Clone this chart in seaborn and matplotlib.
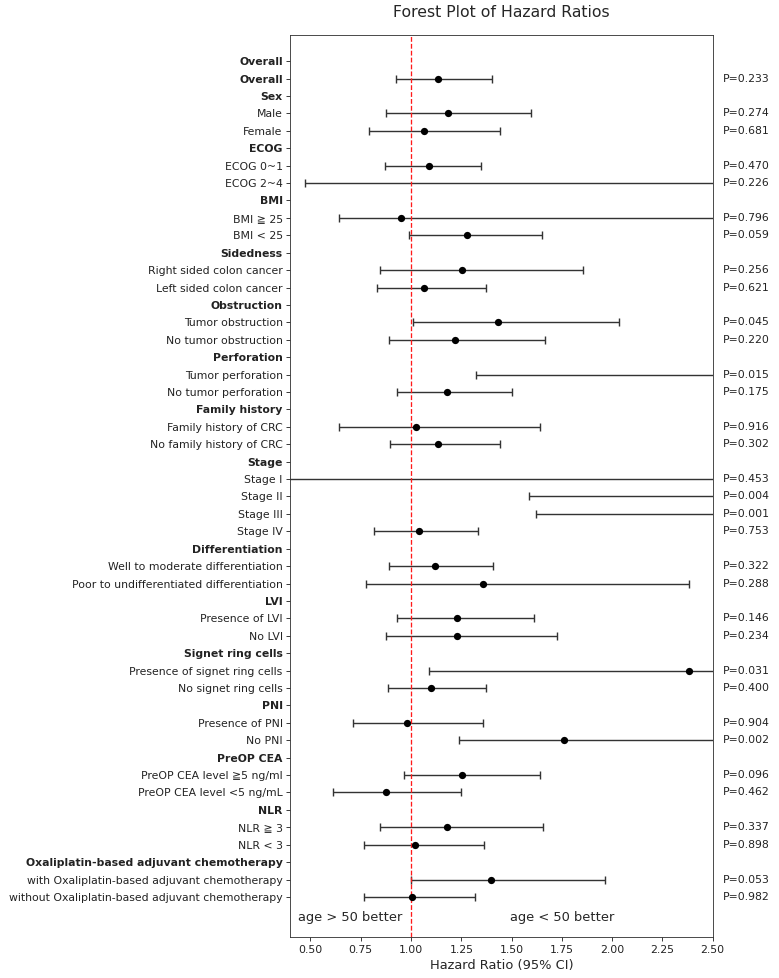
import numpy as np
import pandas as pd
import matplotlib.pyplot as plt
import seaborn as sns

# ── data ────────────────────────────────────────────────────────────────
labels = [
    "Overall", "Overall",
    "Sex", "Male", "Female",
    "ECOG", "ECOG 0~1", "ECOG 2~4",
    "BMI", "BMI ≧ 25", "BMI < 25",
    "Sidedness", "Right sided colon cancer", "Left sided colon cancer",
    "Obstruction", "Tumor obstruction", "No tumor obstruction",
    "Perforation", "Tumor perforation", "No tumor perforation",
    "Family history", "Family history of CRC", "No family history of CRC",
    "Stage", "Stage I", "Stage II", "Stage III", "Stage IV",
    "Differentiation", "Well to moderate differentiation",
    "Poor to undifferentiated differentiation",
    "LVI", "Presence of LVI", "No LVI",
    "Signet ring cells", "Presence of signet ring cells", "No signet ring cells",
    "PNI", "Presence of PNI", "No PNI",
    "PreOP CEA", "PreOP CEA level ≧5 ng/ml", "PreOP CEA level <5 ng/mL",
    "NLR", "NLR ≧ 3", "NLR < 3",
    "Oxaliplatin-based adjuvant chemotherapy",
    "with Oxaliplatin-based adjuvant chemotherapy",
    "without Oxaliplatin-based adjuvant chemotherapy",
]
is_header = [
    1, 1,
    1, 0, 0,
    1, 0, 0,
    1, 0, 0,
    1, 0, 0,
    1, 0, 0,
    1, 0, 0,
    1, 0, 0,
    1, 0, 0, 0, 0,
    1, 0, 0,
    1, 0, 0,
    1, 0, 0,
    1, 0, 0,
    1, 0, 0,
    1, 0, 0,
    1, 0, 0,
]
nan = np.nan
hr = [
    nan, 1.136,
    nan, 1.184, 1.065,
    nan, 1.087, 2.90,
    nan, 0.951, 1.279,
    nan, 1.254, 1.065,
    nan, 1.431, 1.219,
    nan, 4.50, 1.181,
    nan, 1.027, 1.133,
    nan, 3.00, 3.00, 3.10, 1.042,
    nan, 1.121, 1.357,
    nan, 1.227, 1.227,
    nan, 2.382, 1.100,
    nan, 0.979, 1.763,
    nan, 1.254, 0.876,
    nan, 1.181, 1.019,
    nan, 1.396, 1.004,
]
ci_low = [
    nan, 0.924,
    nan, 0.878, 0.792,
    nan, 0.873, 0.472,
    nan, 0.644, 0.992,
    nan, 0.848, 0.830,
    nan, 1.009, 0.889,
    nan, 1.324, 0.932,
    nan, 0.644, 0.896,
    nan, 0.15, 1.589, 1.620, 0.815,
    nan, 0.893, 0.775,
    nan, 0.932, 0.878,
    nan, 1.087, 0.886,
    nan, 0.714, 1.239,
    nan, 0.964, 0.614,
    nan, 0.845, 0.765,
    nan, 0.999, 0.768,
]
ci_high = [
    nan, 1.405,
    nan, 1.595, 1.441,
    nan, 1.347, 17.0,
    nan, 2.90, 1.650,
    nan, 1.854, 1.373,
    nan, 2.036, 1.665,
    nan, 15.0, 1.501,
    nan, 1.642, 1.441,
    nan, 60.0, 6.00, 6.00, 1.335,
    nan, 1.410, 2.382,
    nan, 1.612, 1.724,
    nan, 5.20, 1.373,
    nan, 1.358, 2.60,
    nan, 1.642, 1.251,
    nan, 1.657, 1.363,
    nan, 1.965, 1.319,
]
p_values = [
    "", "P=0.233",
    "", "P=0.274", "P=0.681",
    "", "P=0.470", "P=0.226",
    "", "P=0.796", "P=0.059",
    "", "P=0.256", "P=0.621",
    "", "P=0.045", "P=0.220",
    "", "P=0.015", "P=0.175",
    "", "P=0.916", "P=0.302",
    "", "P=0.453", "P=0.004", "P=0.001", "P=0.753",
    "", "P=0.322", "P=0.288",
    "", "P=0.146", "P=0.234",
    "", "P=0.031", "P=0.400",
    "", "P=0.904", "P=0.002",
    "", "P=0.096", "P=0.462",
    "", "P=0.337", "P=0.898",
    "", "P=0.053", "P=0.982",
]

df = pd.DataFrame({
    "label": labels, "header": is_header, "hr": hr,
    "lo": ci_low, "hi": ci_high, "p": p_values,
})
df["pos"] = np.arange(len(df))

# ── plot ────────────────────────────────────────────────────────────────
sns.set_style("ticks")
plt.rcParams["font.family"] = ["DejaVu Sans"]

fig = plt.figure(figsize=(779 / 78, 978 / 78), dpi=78)
ax = fig.add_axes([0.3727, 0.0419, 0.5422, 0.9223])

rows = df.dropna(subset=["hr"])
ax.errorbar(rows["hr"], rows["pos"],
            xerr=[rows["hr"] - rows["lo"], rows["hi"] - rows["hr"]],
            fmt="none", ecolor="#333333", elinewidth=1.3, capsize=3.5,
            capthick=1.3)
sns.scatterplot(data=rows, x="hr", y="pos", color="black", s=45,
                edgecolor="black", linewidth=0, zorder=3, ax=ax)

ax.axvline(1.0, color="#ff1a1a", linestyle="--", linewidth=1.2)

ax.set_xlim(0.4, 2.5)
ax.set_ylim(50.3, -1.5)
ax.set_xticks(np.arange(0.5, 2.51, 0.25))
ax.set_xticklabels([f"{v:.2f}" for v in np.arange(0.5, 2.51, 0.25)])
ax.set_yticks(df["pos"])
ax.set_yticklabels(df["label"])
for tick, h in zip(ax.get_yticklabels(), df["header"]):
    if h:
        tick.set_fontweight("bold")
ax.tick_params(axis="both", labelsize=10, colors="#222222")

for _, r in df.iterrows():
    if r["p"]:
        ax.text(1.024, r["pos"], r["p"], transform=ax.get_yaxis_transform(),
                va="center", ha="left", fontsize=10, color="#222222")

ax.text(0.44, 49.2, "age > 50 better", fontsize=12, va="center", ha="left")
ax.text(1.49, 49.2, "age < 50 better", fontsize=12, va="center", ha="left")

for s in ax.spines.values():
    s.set_visible(True)
    s.set_color("#333333")

ax.set_xlabel("Hazard Ratio (95% CI)", fontsize=12)
ax.set_ylabel("")
ax.set_title("Forest Plot of Hazard Ratios", fontsize=14.5, pad=17)

fig.savefig("out.png", dpi=78)
